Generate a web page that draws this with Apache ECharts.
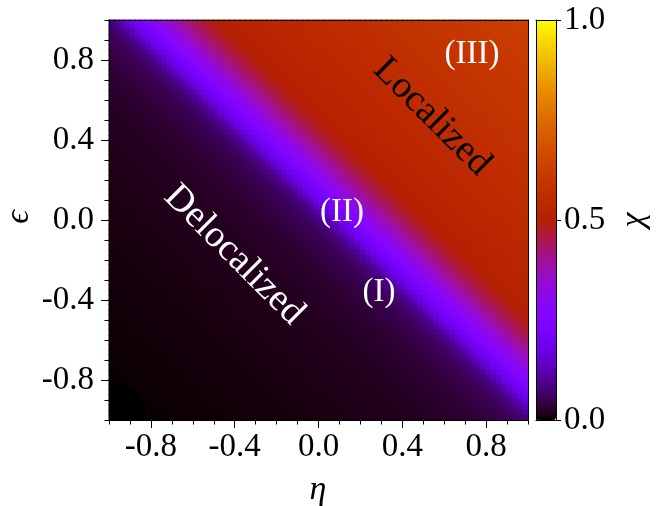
<!DOCTYPE html>
<html><head><meta charset="utf-8">
<script src="https://cdn.jsdelivr.net/npm/echarts@6/dist/echarts.min.js"></script>
<style>html,body{margin:0;padding:0;background:#fff}#c{width:663px;height:506px}</style>
</head><body><div id="c"></div>
<script>
// cell centres (eta: left->right, eps: bottom->top), step 0.025
const eta = [-0.9875,-0.9625,-0.9375,-0.9125,-0.8875,-0.8625,-0.8375,-0.8125,-0.7875,-0.7625,-0.7375,-0.7125,-0.6875,-0.6625,-0.6375,-0.6125,-0.5875,-0.5625,-0.5375,-0.5125,-0.4875,-0.4625,-0.4375,-0.4125,-0.3875,-0.3625,-0.3375,-0.3125,-0.2875,-0.2625,-0.2375,-0.2125,-0.1875,-0.1625,-0.1375,-0.1125,-0.0875,-0.0625,-0.0375,-0.0125,0.0125,0.0375,0.0625,0.0875,0.1125,0.1375,0.1625,0.1875,0.2125,0.2375,0.2625,0.2875,0.3125,0.3375,0.3625,0.3875,0.4125,0.4375,0.4625,0.4875,0.5125,0.5375,0.5625,0.5875,0.6125,0.6375,0.6625,0.6875,0.7125,0.7375,0.7625,0.7875,0.8125,0.8375,0.8625,0.8875,0.9125,0.9375,0.9625,0.9875];
const eps = [-0.9875,-0.9625,-0.9375,-0.9125,-0.8875,-0.8625,-0.8375,-0.8125,-0.7875,-0.7625,-0.7375,-0.7125,-0.6875,-0.6625,-0.6375,-0.6125,-0.5875,-0.5625,-0.5375,-0.5125,-0.4875,-0.4625,-0.4375,-0.4125,-0.3875,-0.3625,-0.3375,-0.3125,-0.2875,-0.2625,-0.2375,-0.2125,-0.1875,-0.1625,-0.1375,-0.1125,-0.0875,-0.0625,-0.0375,-0.0125,0.0125,0.0375,0.0625,0.0875,0.1125,0.1375,0.1625,0.1875,0.2125,0.2375,0.2625,0.2875,0.3125,0.3375,0.3625,0.3875,0.4125,0.4375,0.4625,0.4875,0.5125,0.5375,0.5625,0.5875,0.6125,0.6375,0.6625,0.6875,0.7125,0.7375,0.7625,0.7875,0.8125,0.8375,0.8625,0.8875,0.9125,0.9375,0.9625,0.9875];
// chi x 1000, rows from top (eps=0.9875) to bottom (eps=-0.9875)
const chiMilli = [
[85,104,130,158,186,212,236,259,281,302,324,345,366,388,408,427,444,460,474,485,494,501,507,512,516,519,522,525,527,529,531,533,535,537,539,541,543,545,547,549,551,553,555,557,559,561,563,565,567,569,571,573,575,577,579,581,583,585,587,589,591,593,595,597,599,601,603,605,607,609,611,613,615,617,619,621,623,625,627,629],
[73,85,104,130,158,186,212,236,259,281,302,324,345,366,388,408,427,444,460,474,485,494,501,507,512,516,519,522,525,527,529,531,533,535,537,539,541,543,545,547,549,551,553,555,557,559,561,563,565,567,569,571,573,575,577,579,581,583,585,587,589,591,593,595,597,599,601,603,605,607,609,611,613,615,617,619,621,623,625,627],
[64,73,85,104,130,158,186,212,236,259,281,302,324,345,366,388,408,427,444,460,474,485,494,501,507,512,516,519,522,525,527,529,531,533,535,537,539,541,543,545,547,549,551,553,555,557,559,561,563,565,567,569,571,573,575,577,579,581,583,585,587,589,591,593,595,597,599,601,603,605,607,609,611,613,615,617,619,621,623,625],
[57,64,73,85,104,130,158,186,212,236,259,281,302,324,345,366,388,408,427,444,460,474,485,494,501,507,512,516,519,522,525,527,529,531,533,535,537,539,541,543,545,547,549,551,553,555,557,559,561,563,565,567,569,571,573,575,577,579,581,583,585,587,589,591,593,595,597,599,601,603,605,607,609,611,613,615,617,619,621,623],
[52,57,64,73,85,104,130,158,186,212,236,259,281,302,324,345,366,388,408,427,444,460,474,485,494,501,507,512,516,519,522,525,527,529,531,533,535,537,539,541,543,545,547,549,551,553,555,557,559,561,563,565,567,569,571,573,575,577,579,581,583,585,587,589,591,593,595,597,599,601,603,605,607,609,611,613,615,617,619,621],
[48,52,57,64,73,85,104,130,158,186,212,236,259,281,302,324,345,366,388,408,427,444,460,474,485,494,501,507,512,516,519,522,525,527,529,531,533,535,537,539,541,543,545,547,549,551,553,555,557,559,561,563,565,567,569,571,573,575,577,579,581,583,585,587,589,591,593,595,597,599,601,603,605,607,609,611,613,615,617,619],
[44,48,52,57,64,73,85,104,130,158,186,212,236,259,281,302,324,345,366,388,408,427,444,460,474,485,494,501,507,512,516,519,522,525,527,529,531,533,535,537,539,541,543,545,547,549,551,553,555,557,559,561,563,565,567,569,571,573,575,577,579,581,583,585,587,589,591,593,595,597,599,601,603,605,607,609,611,613,615,617],
[41,44,48,52,57,64,73,85,104,130,158,186,212,236,259,281,302,324,345,366,388,408,427,444,460,474,485,494,501,507,512,516,519,522,525,527,529,531,533,535,537,539,541,543,545,547,549,551,553,555,557,559,561,563,565,567,569,571,573,575,577,579,581,583,585,587,589,591,593,595,597,599,601,603,605,607,609,611,613,615],
[38,41,44,48,52,57,64,73,85,104,130,158,186,212,236,259,281,302,324,345,366,388,408,427,444,460,474,485,494,501,507,512,516,519,522,525,527,529,531,533,535,537,539,541,543,545,547,549,551,553,555,557,559,561,563,565,567,569,571,573,575,577,579,581,583,585,587,589,591,593,595,597,599,601,603,605,607,609,611,613],
[35,38,41,44,48,52,57,64,73,85,104,130,158,186,212,236,259,281,302,324,345,366,388,408,427,444,460,474,485,494,501,507,512,516,519,522,525,527,529,531,533,535,537,539,541,543,545,547,549,551,553,555,557,559,561,563,565,567,569,571,573,575,577,579,581,583,585,587,589,591,593,595,597,599,601,603,605,607,609,611],
[33,35,38,41,44,48,52,57,64,73,85,104,130,158,186,212,236,259,281,302,324,345,366,388,408,427,444,460,474,485,494,501,507,512,516,519,522,525,527,529,531,533,535,537,539,541,543,545,547,549,551,553,555,557,559,561,563,565,567,569,571,573,575,577,579,581,583,585,587,589,591,593,595,597,599,601,603,605,607,609],
[31,33,35,38,41,44,48,52,57,64,73,85,104,130,158,186,212,236,259,281,302,324,345,366,388,408,427,444,460,474,485,494,501,507,512,516,519,522,525,527,529,531,533,535,537,539,541,543,545,547,549,551,553,555,557,559,561,563,565,567,569,571,573,575,577,579,581,583,585,587,589,591,593,595,597,599,601,603,605,607],
[29,31,33,35,38,41,44,48,52,57,64,73,85,104,130,158,186,212,236,259,281,302,324,345,366,388,408,427,444,460,474,485,494,501,507,512,516,519,522,525,527,529,531,533,535,537,539,541,543,545,547,549,551,553,555,557,559,561,563,565,567,569,571,573,575,577,579,581,583,585,587,589,591,593,595,597,599,601,603,605],
[28,29,31,33,35,38,41,44,48,52,57,64,73,85,104,130,158,186,212,236,259,281,302,324,345,366,388,408,427,444,460,474,485,494,501,507,512,516,519,522,525,527,529,531,533,535,537,539,541,543,545,547,549,551,553,555,557,559,561,563,565,567,569,571,573,575,577,579,581,583,585,587,589,591,593,595,597,599,601,603],
[27,28,29,31,33,35,38,41,44,48,52,57,64,73,85,104,130,158,186,212,236,259,281,302,324,345,366,388,408,427,444,460,474,485,494,501,507,512,516,519,522,525,527,529,531,533,535,537,539,541,543,545,547,549,551,553,555,557,559,561,563,565,567,569,571,573,575,577,579,581,583,585,587,589,591,593,595,597,599,601],
[25,27,28,29,31,33,35,38,41,44,48,52,57,64,73,85,104,130,158,186,212,236,259,281,302,324,345,366,388,408,427,444,460,474,485,494,501,507,512,516,519,522,525,527,529,531,533,535,537,539,541,543,545,547,549,551,553,555,557,559,561,563,565,567,569,571,573,575,577,579,581,583,585,587,589,591,593,595,597,599],
[24,25,27,28,29,31,33,35,38,41,44,48,52,57,64,73,85,104,130,158,186,212,236,259,281,302,324,345,366,388,408,427,444,460,474,485,494,501,507,512,516,519,522,525,527,529,531,533,535,537,539,541,543,545,547,549,551,553,555,557,559,561,563,565,567,569,571,573,575,577,579,581,583,585,587,589,591,593,595,597],
[23,24,25,27,28,29,31,33,35,38,41,44,48,52,57,64,73,85,104,130,158,186,212,236,259,281,302,324,345,366,388,408,427,444,460,474,485,494,501,507,512,516,519,522,525,527,529,531,533,535,537,539,541,543,545,547,549,551,553,555,557,559,561,563,565,567,569,571,573,575,577,579,581,583,585,587,589,591,593,595],
[22,23,24,25,27,28,29,31,33,35,38,41,44,48,52,57,64,73,85,104,130,158,186,212,236,259,281,302,324,345,366,388,408,427,444,460,474,485,494,501,507,512,516,519,522,525,527,529,531,533,535,537,539,541,543,545,547,549,551,553,555,557,559,561,563,565,567,569,571,573,575,577,579,581,583,585,587,589,591,593],
[21,22,23,24,25,27,28,29,31,33,35,38,41,44,48,52,57,64,73,85,104,130,158,186,212,236,259,281,302,324,345,366,388,408,427,444,460,474,485,494,501,507,512,516,519,522,525,527,529,531,533,535,537,539,541,543,545,547,549,551,553,555,557,559,561,563,565,567,569,571,573,575,577,579,581,583,585,587,589,591],
[20,21,22,23,24,25,27,28,29,31,33,35,38,41,44,48,52,57,64,73,85,104,130,158,186,212,236,259,281,302,324,345,366,388,408,427,444,460,474,485,494,501,507,512,516,519,522,525,527,529,531,533,535,537,539,541,543,545,547,549,551,553,555,557,559,561,563,565,567,569,571,573,575,577,579,581,583,585,587,589],
[20,20,21,22,23,24,25,27,28,29,31,33,35,38,41,44,48,52,57,64,73,85,104,130,158,186,212,236,259,281,302,324,345,366,388,408,427,444,460,474,485,494,501,507,512,516,519,522,525,527,529,531,533,535,537,539,541,543,545,547,549,551,553,555,557,559,561,563,565,567,569,571,573,575,577,579,581,583,585,587],
[19,20,20,21,22,23,24,25,27,28,29,31,33,35,38,41,44,48,52,57,64,73,85,104,130,158,186,212,236,259,281,302,324,345,366,388,408,427,444,460,474,485,494,501,507,512,516,519,522,525,527,529,531,533,535,537,539,541,543,545,547,549,551,553,555,557,559,561,563,565,567,569,571,573,575,577,579,581,583,585],
[18,19,20,20,21,22,23,24,25,27,28,29,31,33,35,38,41,44,48,52,57,64,73,85,104,130,158,186,212,236,259,281,302,324,345,366,388,408,427,444,460,474,485,494,501,507,512,516,519,522,525,527,529,531,533,535,537,539,541,543,545,547,549,551,553,555,557,559,561,563,565,567,569,571,573,575,577,579,581,583],
[17,18,19,20,20,21,22,23,24,25,27,28,29,31,33,35,38,41,44,48,52,57,64,73,85,104,130,158,186,212,236,259,281,302,324,345,366,388,408,427,444,460,474,485,494,501,507,512,516,519,522,525,527,529,531,533,535,537,539,541,543,545,547,549,551,553,555,557,559,561,563,565,567,569,571,573,575,577,579,581],
[17,17,18,19,20,20,21,22,23,24,25,27,28,29,31,33,35,38,41,44,48,52,57,64,73,85,104,130,158,186,212,236,259,281,302,324,345,366,388,408,427,444,460,474,485,494,501,507,512,516,519,522,525,527,529,531,533,535,537,539,541,543,545,547,549,551,553,555,557,559,561,563,565,567,569,571,573,575,577,579],
[16,17,17,18,19,20,20,21,22,23,24,25,27,28,29,31,33,35,38,41,44,48,52,57,64,73,85,104,130,158,186,212,236,259,281,302,324,345,366,388,408,427,444,460,474,485,494,501,507,512,516,519,522,525,527,529,531,533,535,537,539,541,543,545,547,549,551,553,555,557,559,561,563,565,567,569,571,573,575,577],
[16,16,17,17,18,19,20,20,21,22,23,24,25,27,28,29,31,33,35,38,41,44,48,52,57,64,73,85,104,130,158,186,212,236,259,281,302,324,345,366,388,408,427,444,460,474,485,494,501,507,512,516,519,522,525,527,529,531,533,535,537,539,541,543,545,547,549,551,553,555,557,559,561,563,565,567,569,571,573,575],
[15,16,16,17,17,18,19,20,20,21,22,23,24,25,27,28,29,31,33,35,38,41,44,48,52,57,64,73,85,104,130,158,186,212,236,259,281,302,324,345,366,388,408,427,444,460,474,485,494,501,507,512,516,519,522,525,527,529,531,533,535,537,539,541,543,545,547,549,551,553,555,557,559,561,563,565,567,569,571,573],
[15,15,16,16,17,17,18,19,20,20,21,22,23,24,25,27,28,29,31,33,35,38,41,44,48,52,57,64,73,85,104,130,158,186,212,236,259,281,302,324,345,366,388,408,427,444,460,474,485,494,501,507,512,516,519,522,525,527,529,531,533,535,537,539,541,543,545,547,549,551,553,555,557,559,561,563,565,567,569,571],
[14,15,15,16,16,17,17,18,19,20,20,21,22,23,24,25,27,28,29,31,33,35,38,41,44,48,52,57,64,73,85,104,130,158,186,212,236,259,281,302,324,345,366,388,408,427,444,460,474,485,494,501,507,512,516,519,522,525,527,529,531,533,535,537,539,541,543,545,547,549,551,553,555,557,559,561,563,565,567,569],
[14,14,15,15,16,16,17,17,18,19,20,20,21,22,23,24,25,27,28,29,31,33,35,38,41,44,48,52,57,64,73,85,104,130,158,186,212,236,259,281,302,324,345,366,388,408,427,444,460,474,485,494,501,507,512,516,519,522,525,527,529,531,533,535,537,539,541,543,545,547,549,551,553,555,557,559,561,563,565,567],
[13,14,14,15,15,16,16,17,17,18,19,20,20,21,22,23,24,25,27,28,29,31,33,35,38,41,44,48,52,57,64,73,85,104,130,158,186,212,236,259,281,302,324,345,366,388,408,427,444,460,474,485,494,501,507,512,516,519,522,525,527,529,531,533,535,537,539,541,543,545,547,549,551,553,555,557,559,561,563,565],
[13,13,14,14,15,15,16,16,17,17,18,19,20,20,21,22,23,24,25,27,28,29,31,33,35,38,41,44,48,52,57,64,73,85,104,130,158,186,212,236,259,281,302,324,345,366,388,408,427,444,460,474,485,494,501,507,512,516,519,522,525,527,529,531,533,535,537,539,541,543,545,547,549,551,553,555,557,559,561,563],
[12,13,13,14,14,15,15,16,16,17,17,18,19,20,20,21,22,23,24,25,27,28,29,31,33,35,38,41,44,48,52,57,64,73,85,104,130,158,186,212,236,259,281,302,324,345,366,388,408,427,444,460,474,485,494,501,507,512,516,519,522,525,527,529,531,533,535,537,539,541,543,545,547,549,551,553,555,557,559,561],
[12,12,13,13,14,14,15,15,16,16,17,17,18,19,20,20,21,22,23,24,25,27,28,29,31,33,35,38,41,44,48,52,57,64,73,85,104,130,158,186,212,236,259,281,302,324,345,366,388,408,427,444,460,474,485,494,501,507,512,516,519,522,525,527,529,531,533,535,537,539,541,543,545,547,549,551,553,555,557,559],
[11,12,12,13,13,14,14,15,15,16,16,17,17,18,19,20,20,21,22,23,24,25,27,28,29,31,33,35,38,41,44,48,52,57,64,73,85,104,130,158,186,212,236,259,281,302,324,345,366,388,408,427,444,460,474,485,494,501,507,512,516,519,522,525,527,529,531,533,535,537,539,541,543,545,547,549,551,553,555,557],
[11,11,12,12,13,13,14,14,15,15,16,16,17,17,18,19,20,20,21,22,23,24,25,27,28,29,31,33,35,38,41,44,48,52,57,64,73,85,104,130,158,186,212,236,259,281,302,324,345,366,388,408,427,444,460,474,485,494,501,507,512,516,519,522,525,527,529,531,533,535,537,539,541,543,545,547,549,551,553,555],
[10,11,11,12,12,13,13,14,14,15,15,16,16,17,17,18,19,20,20,21,22,23,24,25,27,28,29,31,33,35,38,41,44,48,52,57,64,73,85,104,130,158,186,212,236,259,281,302,324,345,366,388,408,427,444,460,474,485,494,501,507,512,516,519,522,525,527,529,531,533,535,537,539,541,543,545,547,549,551,553],
[10,10,11,11,12,12,13,13,14,14,15,15,16,16,17,17,18,19,20,20,21,22,23,24,25,27,28,29,31,33,35,38,41,44,48,52,57,64,73,85,104,130,158,186,212,236,259,281,302,324,345,366,388,408,427,444,460,474,485,494,501,507,512,516,519,522,525,527,529,531,533,535,537,539,541,543,545,547,549,551],
[10,10,10,11,11,12,12,13,13,14,14,15,15,16,16,17,17,18,19,20,20,21,22,23,24,25,27,28,29,31,33,35,38,41,44,48,52,57,64,73,85,104,130,158,186,212,236,259,281,302,324,345,366,388,408,427,444,460,474,485,494,501,507,512,516,519,522,525,527,529,531,533,535,537,539,541,543,545,547,549],
[9,10,10,10,11,11,12,12,13,13,14,14,15,15,16,16,17,17,18,19,20,20,21,22,23,24,25,27,28,29,31,33,35,38,41,44,48,52,57,64,73,85,104,130,158,186,212,236,259,281,302,324,345,366,388,408,427,444,460,474,485,494,501,507,512,516,519,522,525,527,529,531,533,535,537,539,541,543,545,547],
[9,9,10,10,10,11,11,12,12,13,13,14,14,15,15,16,16,17,17,18,19,20,20,21,22,23,24,25,27,28,29,31,33,35,38,41,44,48,52,57,64,73,85,104,130,158,186,212,236,259,281,302,324,345,366,388,408,427,444,460,474,485,494,501,507,512,516,519,522,525,527,529,531,533,535,537,539,541,543,545],
[9,9,9,10,10,10,11,11,12,12,13,13,14,14,15,15,16,16,17,17,18,19,20,20,21,22,23,24,25,27,28,29,31,33,35,38,41,44,48,52,57,64,73,85,104,130,158,186,212,236,259,281,302,324,345,366,388,408,427,444,460,474,485,494,501,507,512,516,519,522,525,527,529,531,533,535,537,539,541,543],
[8,9,9,9,10,10,10,11,11,12,12,13,13,14,14,15,15,16,16,17,17,18,19,20,20,21,22,23,24,25,27,28,29,31,33,35,38,41,44,48,52,57,64,73,85,104,130,158,186,212,236,259,281,302,324,345,366,388,408,427,444,460,474,485,494,501,507,512,516,519,522,525,527,529,531,533,535,537,539,541],
[8,8,9,9,9,10,10,10,11,11,12,12,13,13,14,14,15,15,16,16,17,17,18,19,20,20,21,22,23,24,25,27,28,29,31,33,35,38,41,44,48,52,57,64,73,85,104,130,158,186,212,236,259,281,302,324,345,366,388,408,427,444,460,474,485,494,501,507,512,516,519,522,525,527,529,531,533,535,537,539],
[8,8,8,9,9,9,10,10,10,11,11,12,12,13,13,14,14,15,15,16,16,17,17,18,19,20,20,21,22,23,24,25,27,28,29,31,33,35,38,41,44,48,52,57,64,73,85,104,130,158,186,212,236,259,281,302,324,345,366,388,408,427,444,460,474,485,494,501,507,512,516,519,522,525,527,529,531,533,535,537],
[7,8,8,8,9,9,9,10,10,10,11,11,12,12,13,13,14,14,15,15,16,16,17,17,18,19,20,20,21,22,23,24,25,27,28,29,31,33,35,38,41,44,48,52,57,64,73,85,104,130,158,186,212,236,259,281,302,324,345,366,388,408,427,444,460,474,485,494,501,507,512,516,519,522,525,527,529,531,533,535],
[7,7,8,8,8,9,9,9,10,10,10,11,11,12,12,13,13,14,14,15,15,16,16,17,17,18,19,20,20,21,22,23,24,25,27,28,29,31,33,35,38,41,44,48,52,57,64,73,85,104,130,158,186,212,236,259,281,302,324,345,366,388,408,427,444,460,474,485,494,501,507,512,516,519,522,525,527,529,531,533],
[7,7,7,8,8,8,9,9,9,10,10,10,11,11,12,12,13,13,14,14,15,15,16,16,17,17,18,19,20,20,21,22,23,24,25,27,28,29,31,33,35,38,41,44,48,52,57,64,73,85,104,130,158,186,212,236,259,281,302,324,345,366,388,408,427,444,460,474,485,494,501,507,512,516,519,522,525,527,529,531],
[6,7,7,7,8,8,8,9,9,9,10,10,10,11,11,12,12,13,13,14,14,15,15,16,16,17,17,18,19,20,20,21,22,23,24,25,27,28,29,31,33,35,38,41,44,48,52,57,64,73,85,104,130,158,186,212,236,259,281,302,324,345,366,388,408,427,444,460,474,485,494,501,507,512,516,519,522,525,527,529],
[6,6,7,7,7,8,8,8,9,9,9,10,10,10,11,11,12,12,13,13,14,14,15,15,16,16,17,17,18,19,20,20,21,22,23,24,25,27,28,29,31,33,35,38,41,44,48,52,57,64,73,85,104,130,158,186,212,236,259,281,302,324,345,366,388,408,427,444,460,474,485,494,501,507,512,516,519,522,525,527],
[6,6,6,7,7,7,8,8,8,9,9,9,10,10,10,11,11,12,12,13,13,14,14,15,15,16,16,17,17,18,19,20,20,21,22,23,24,25,27,28,29,31,33,35,38,41,44,48,52,57,64,73,85,104,130,158,186,212,236,259,281,302,324,345,366,388,408,427,444,460,474,485,494,501,507,512,516,519,522,525],
[6,6,6,6,7,7,7,8,8,8,9,9,9,10,10,10,11,11,12,12,13,13,14,14,15,15,16,16,17,17,18,19,20,20,21,22,23,24,25,27,28,29,31,33,35,38,41,44,48,52,57,64,73,85,104,130,158,186,212,236,259,281,302,324,345,366,388,408,427,444,460,474,485,494,501,507,512,516,519,522],
[5,6,6,6,6,7,7,7,8,8,8,9,9,9,10,10,10,11,11,12,12,13,13,14,14,15,15,16,16,17,17,18,19,20,20,21,22,23,24,25,27,28,29,31,33,35,38,41,44,48,52,57,64,73,85,104,130,158,186,212,236,259,281,302,324,345,366,388,408,427,444,460,474,485,494,501,507,512,516,519],
[5,5,6,6,6,6,7,7,7,8,8,8,9,9,9,10,10,10,11,11,12,12,13,13,14,14,15,15,16,16,17,17,18,19,20,20,21,22,23,24,25,27,28,29,31,33,35,38,41,44,48,52,57,64,73,85,104,130,158,186,212,236,259,281,302,324,345,366,388,408,427,444,460,474,485,494,501,507,512,516],
[5,5,5,6,6,6,6,7,7,7,8,8,8,9,9,9,10,10,10,11,11,12,12,13,13,14,14,15,15,16,16,17,17,18,19,20,20,21,22,23,24,25,27,28,29,31,33,35,38,41,44,48,52,57,64,73,85,104,130,158,186,212,236,259,281,302,324,345,366,388,408,427,444,460,474,485,494,501,507,512],
[5,5,5,5,6,6,6,6,7,7,7,8,8,8,9,9,9,10,10,10,11,11,12,12,13,13,14,14,15,15,16,16,17,17,18,19,20,20,21,22,23,24,25,27,28,29,31,33,35,38,41,44,48,52,57,64,73,85,104,130,158,186,212,236,259,281,302,324,345,366,388,408,427,444,460,474,485,494,501,507],
[4,5,5,5,5,6,6,6,6,7,7,7,8,8,8,9,9,9,10,10,10,11,11,12,12,13,13,14,14,15,15,16,16,17,17,18,19,20,20,21,22,23,24,25,27,28,29,31,33,35,38,41,44,48,52,57,64,73,85,104,130,158,186,212,236,259,281,302,324,345,366,388,408,427,444,460,474,485,494,501],
[4,4,5,5,5,5,6,6,6,6,7,7,7,8,8,8,9,9,9,10,10,10,11,11,12,12,13,13,14,14,15,15,16,16,17,17,18,19,20,20,21,22,23,24,25,27,28,29,31,33,35,38,41,44,48,52,57,64,73,85,104,130,158,186,212,236,259,281,302,324,345,366,388,408,427,444,460,474,485,494],
[4,4,4,5,5,5,5,6,6,6,6,7,7,7,8,8,8,9,9,9,10,10,10,11,11,12,12,13,13,14,14,15,15,16,16,17,17,18,19,20,20,21,22,23,24,25,27,28,29,31,33,35,38,41,44,48,52,57,64,73,85,104,130,158,186,212,236,259,281,302,324,345,366,388,408,427,444,460,474,485],
[4,4,4,4,5,5,5,5,6,6,6,6,7,7,7,8,8,8,9,9,9,10,10,10,11,11,12,12,13,13,14,14,15,15,16,16,17,17,18,19,20,20,21,22,23,24,25,27,28,29,31,33,35,38,41,44,48,52,57,64,73,85,104,130,158,186,212,236,259,281,302,324,345,366,388,408,427,444,460,474],
[4,4,4,4,4,5,5,5,5,6,6,6,6,7,7,7,8,8,8,9,9,9,10,10,10,11,11,12,12,13,13,14,14,15,15,16,16,17,17,18,19,20,20,21,22,23,24,25,27,28,29,31,33,35,38,41,44,48,52,57,64,73,85,104,130,158,186,212,236,259,281,302,324,345,366,388,408,427,444,460],
[3,4,4,4,4,4,5,5,5,5,6,6,6,6,7,7,7,8,8,8,9,9,9,10,10,10,11,11,12,12,13,13,14,14,15,15,16,16,17,17,18,19,20,20,21,22,23,24,25,27,28,29,31,33,35,38,41,44,48,52,57,64,73,85,104,130,158,186,212,236,259,281,302,324,345,366,388,408,427,444],
[3,3,4,4,4,4,4,5,5,5,5,6,6,6,6,7,7,7,8,8,8,9,9,9,10,10,10,11,11,12,12,13,13,14,14,15,15,16,16,17,17,18,19,20,20,21,22,23,24,25,27,28,29,31,33,35,38,41,44,48,52,57,64,73,85,104,130,158,186,212,236,259,281,302,324,345,366,388,408,427],
[3,3,3,4,4,4,4,4,5,5,5,5,6,6,6,6,7,7,7,8,8,8,9,9,9,10,10,10,11,11,12,12,13,13,14,14,15,15,16,16,17,17,18,19,20,20,21,22,23,24,25,27,28,29,31,33,35,38,41,44,48,52,57,64,73,85,104,130,158,186,212,236,259,281,302,324,345,366,388,408],
[3,3,3,3,4,4,4,4,4,5,5,5,5,6,6,6,6,7,7,7,8,8,8,9,9,9,10,10,10,11,11,12,12,13,13,14,14,15,15,16,16,17,17,18,19,20,20,21,22,23,24,25,27,28,29,31,33,35,38,41,44,48,52,57,64,73,85,104,130,158,186,212,236,259,281,302,324,345,366,388],
[3,3,3,3,3,4,4,4,4,4,5,5,5,5,6,6,6,6,7,7,7,8,8,8,9,9,9,10,10,10,11,11,12,12,13,13,14,14,15,15,16,16,17,17,18,19,20,20,21,22,23,24,25,27,28,29,31,33,35,38,41,44,48,52,57,64,73,85,104,130,158,186,212,236,259,281,302,324,345,366],
[3,3,3,3,3,3,4,4,4,4,4,5,5,5,5,6,6,6,6,7,7,7,8,8,8,9,9,9,10,10,10,11,11,12,12,13,13,14,14,15,15,16,16,17,17,18,19,20,20,21,22,23,24,25,27,28,29,31,33,35,38,41,44,48,52,57,64,73,85,104,130,158,186,212,236,259,281,302,324,345],
[2,3,3,3,3,3,3,4,4,4,4,4,5,5,5,5,6,6,6,6,7,7,7,8,8,8,9,9,9,10,10,10,11,11,12,12,13,13,14,14,15,15,16,16,17,17,18,19,20,20,21,22,23,24,25,27,28,29,31,33,35,38,41,44,48,52,57,64,73,85,104,130,158,186,212,236,259,281,302,324],
[2,2,3,3,3,3,3,3,4,4,4,4,4,5,5,5,5,6,6,6,6,7,7,7,8,8,8,9,9,9,10,10,10,11,11,12,12,13,13,14,14,15,15,16,16,17,17,18,19,20,20,21,22,23,24,25,27,28,29,31,33,35,38,41,44,48,52,57,64,73,85,104,130,158,186,212,236,259,281,302],
[2,2,2,3,3,3,3,3,3,4,4,4,4,4,5,5,5,5,6,6,6,6,7,7,7,8,8,8,9,9,9,10,10,10,11,11,12,12,13,13,14,14,15,15,16,16,17,17,18,19,20,20,21,22,23,24,25,27,28,29,31,33,35,38,41,44,48,52,57,64,73,85,104,130,158,186,212,236,259,281],
[2,2,2,2,3,3,3,3,3,3,4,4,4,4,4,5,5,5,5,6,6,6,6,7,7,7,8,8,8,9,9,9,10,10,10,11,11,12,12,13,13,14,14,15,15,16,16,17,17,18,19,20,20,21,22,23,24,25,27,28,29,31,33,35,38,41,44,48,52,57,64,73,85,104,130,158,186,212,236,259],
[0,0,0,2,2,3,3,3,3,3,3,4,4,4,4,4,5,5,5,5,6,6,6,6,7,7,7,8,8,8,9,9,9,10,10,10,11,11,12,12,13,13,14,14,15,15,16,16,17,17,18,19,20,20,21,22,23,24,25,27,28,29,31,33,35,38,41,44,48,52,57,64,73,85,104,130,158,186,212,236],
[0,0,0,0,0,2,3,3,3,3,3,3,4,4,4,4,4,5,5,5,5,6,6,6,6,7,7,7,8,8,8,9,9,9,10,10,10,11,11,12,12,13,13,14,14,15,15,16,16,17,17,18,19,20,20,21,22,23,24,25,27,28,29,31,33,35,38,41,44,48,52,57,64,73,85,104,130,158,186,212],
[0,0,0,0,0,0,2,3,3,3,3,3,3,4,4,4,4,4,5,5,5,5,6,6,6,6,7,7,7,8,8,8,9,9,9,10,10,10,11,11,12,12,13,13,14,14,15,15,16,16,17,17,18,19,20,20,21,22,23,24,25,27,28,29,31,33,35,38,41,44,48,52,57,64,73,85,104,130,158,186],
[0,0,0,0,0,0,2,2,3,3,3,3,3,3,4,4,4,4,4,5,5,5,5,6,6,6,6,7,7,7,8,8,8,9,9,9,10,10,10,11,11,12,12,13,13,14,14,15,15,16,16,17,17,18,19,20,20,21,22,23,24,25,27,28,29,31,33,35,38,41,44,48,52,57,64,73,85,104,130,158],
[0,0,0,0,0,0,0,2,2,3,3,3,3,3,3,4,4,4,4,4,5,5,5,5,6,6,6,6,7,7,7,8,8,8,9,9,9,10,10,10,11,11,12,12,13,13,14,14,15,15,16,16,17,17,18,19,20,20,21,22,23,24,25,27,28,29,31,33,35,38,41,44,48,52,57,64,73,85,104,130],
[0,0,0,0,0,0,0,2,2,2,3,3,3,3,3,3,4,4,4,4,4,5,5,5,5,6,6,6,6,7,7,7,8,8,8,9,9,9,10,10,10,11,11,12,12,13,13,14,14,15,15,16,16,17,17,18,19,20,20,21,22,23,24,25,27,28,29,31,33,35,38,41,44,48,52,57,64,73,85,104],
[0,0,0,0,0,0,0,2,2,2,2,3,3,3,3,3,3,4,4,4,4,4,5,5,5,5,6,6,6,6,7,7,7,8,8,8,9,9,9,10,10,10,11,11,12,12,13,13,14,14,15,15,16,16,17,17,18,19,20,20,21,22,23,24,25,27,28,29,31,33,35,38,41,44,48,52,57,64,73,85]
];
const majorTicks = [-0.8, -0.4, 0, 0.4, 0.8];
const minorTicks = [-1,-0.9,-0.8,-0.7,-0.6,-0.5,-0.4,-0.3,-0.2,-0.1,0,0.1,0.2,0.3,0.4,0.5,0.6,0.7,0.8,0.9,1];
const cbTicks = [0, 0.5, 1];

// matplotlib 'gnuplot' colormap
function gnuplot(t) {
  const r = Math.sqrt(t), g = t * t * t, b = Math.max(0, Math.sin(2 * Math.PI * t));
  return 'rgb(' + Math.round(r * 255) + ',' + Math.round(g * 255) + ',' + Math.round(b * 255) + ')';
}
const cmap = [];
for (let i = 0; i <= 255; i++) cmap.push(gnuplot(i / 255));

const data = [];
const badRows = [];
for (let r = 0; r < chiMilli.length; r++) {
  if (chiMilli[r].length !== eta.length) badRows.push(r + ':' + chiMilli[r].length);
  const yi = chiMilli.length - 1 - r;
  chiMilli[r].forEach((v, i) => data.push([eta[i], eps[yi], v / 1000]));
}
const cellW = eta[1] - eta[0];
const cellH = eps[1] - eps[0];

const FONT = 'Liberation Serif';
const fmt = v => (Math.abs(v) < 1e-9 ? 0 : v).toFixed(1);
const lineStyle = { color: '#000', width: 1 };
const PL = 109, PT = 20, PW = 419, PH = 400;
const hidden = { axisLine: { show: false, onZero: false }, axisTick: { show: false }, axisLabel: { show: false }, splitLine: { show: false } };

const graphics = [
  { type: 'text', x: 234, y: 255, rotation: -Math.PI / 4, z: 100,
    style: { text: 'Delocalized', fill: '#fff', fontFamily: FONT, fontSize: 38, align: 'center', verticalAlign: 'middle' } },
  { type: 'text', x: 432, y: 117, rotation: -Math.PI / 4, z: 100,
    style: { text: 'Localized', fill: '#000', fontFamily: FONT, fontSize: 38, align: 'center', verticalAlign: 'middle' } },
  { type: 'text', x: 472, y: 54, z: 100,
    style: { text: '(III)', fill: '#fff', fontFamily: FONT, fontSize: 33, align: 'center', verticalAlign: 'middle' } },
  { type: 'text', x: 342, y: 212, z: 100,
    style: { text: '(II)', fill: '#fff', fontFamily: FONT, fontSize: 33, align: 'center', verticalAlign: 'middle' } },
  { type: 'text', x: 379, y: 292, z: 100,
    style: { text: '(I)', fill: '#fff', fontFamily: FONT, fontSize: 33, align: 'center', verticalAlign: 'middle' } },
  { type: 'text', x: 318, y: 490, z: 100,
    style: { text: 'η', fill: '#000', fontFamily: FONT, fontStyle: 'italic', fontSize: 34, align: 'center', verticalAlign: 'middle' } },
  { type: 'text', x: 19, y: 217, rotation: Math.PI / 2, z: 100,
    style: { text: 'ϵ', fill: '#000', fontFamily: FONT, fontStyle: 'italic', fontSize: 34, align: 'center', verticalAlign: 'middle' } },
  { type: 'text', x: 634, y: 220, rotation: Math.PI / 2, z: 100,
    style: { text: 'χ', fill: '#000', fontFamily: FONT, fontStyle: 'italic', fontSize: 34, align: 'center', verticalAlign: 'middle' } }
];
if (badRows.length) graphics.push({ type: 'text', x: 120, y: 30, z: 200, style: { text: 'BAD ' + badRows.join(' '), fill: '#0f0', fontSize: 14 } });

const chart = echarts.init(document.getElementById('c'), null, { renderer: 'canvas' });
chart.setOption({
  animation: false,
  backgroundColor: '#fff',
  grid: [
    { left: PL, top: PT, width: PW, height: PH },
    { left: 536, top: PT, width: 20, height: PH }
  ],
  xAxis: [
    { type: 'value', gridIndex: 0, min: -1, max: 1, position: 'bottom', z: 10,
      axisLine: { onZero: false, lineStyle },
      axisTick: { customValues: majorTicks, length: 8, lineStyle },
      axisLabel: { customValues: majorTicks, formatter: fmt, fontFamily: FONT, fontSize: 33, color: '#000', margin: 11 },
      splitLine: { show: false } },
    Object.assign({ type: 'value', gridIndex: 0, min: -1, max: 1, position: 'bottom', z: 10 }, hidden,
      { axisTick: { show: true, customValues: minorTicks, length: 4.5, lineStyle } }),
    Object.assign({ type: 'value', gridIndex: 0, min: -1, max: 1, position: 'top', z: 10 }, hidden,
      { axisLine: { show: true, onZero: false, lineStyle } }),
    Object.assign({ type: 'value', gridIndex: 1, min: 0, max: 1, position: 'bottom', z: 10 }, hidden,
      { axisLine: { show: true, onZero: false, lineStyle } }),
    Object.assign({ type: 'value', gridIndex: 1, min: 0, max: 1, position: 'top', z: 10 }, hidden,
      { axisLine: { show: true, onZero: false, lineStyle } })
  ],
  yAxis: [
    { type: 'value', gridIndex: 0, min: -1, max: 1, position: 'left', z: 10,
      axisLine: { onZero: false, lineStyle },
      axisTick: { customValues: majorTicks, length: 8, lineStyle },
      axisLabel: { customValues: majorTicks, formatter: fmt, fontFamily: FONT, fontSize: 33, color: '#000', margin: 15 },
      splitLine: { show: false } },
    Object.assign({ type: 'value', gridIndex: 0, min: -1, max: 1, position: 'left', z: 10 }, hidden,
      { axisTick: { show: true, customValues: minorTicks, length: 4.5, lineStyle } }),
    Object.assign({ type: 'value', gridIndex: 0, min: -1, max: 1, position: 'right', z: 10 }, hidden,
      { axisLine: { show: true, onZero: false, lineStyle } }),
    Object.assign({ type: 'value', gridIndex: 1, min: 0, max: 1, position: 'left', z: 10 }, hidden,
      { axisLine: { show: true, onZero: false, lineStyle } }),
    { type: 'value', gridIndex: 1, min: 0, max: 1, position: 'right', z: 10,
      axisLine: { onZero: false, lineStyle },
      axisTick: { customValues: cbTicks, length: 5, lineStyle },
      axisLabel: { customValues: cbTicks, formatter: fmt, fontFamily: FONT, fontSize: 33, color: '#000', margin: 8 },
      splitLine: { show: false } }
  ],
  visualMap: {
    type: 'continuous', min: 0, max: 1, seriesIndex: 0, dimension: 2, show: true,
    left: 536, top: PT, itemWidth: 20, itemHeight: PH, padding: 0,
    calculable: false, text: null, hoverLink: false,
    inRange: { color: cmap }
  },
  series: [{
    type: 'custom', xAxisIndex: 0, yAxisIndex: 0, data: data, clip: true,
    encode: { x: 0, y: 1 }, silent: true,
    renderItem: function (params, api) {
      const c = api.coord([api.value(0), api.value(1)]);
      const s = api.size([cellW, cellH]);
      return {
        type: 'rect',
        shape: { x: c[0] - s[0] / 2 - 0.5, y: c[1] - s[1] / 2 - 0.5, width: s[0] + 1, height: s[1] + 1 },
        style: { fill: api.visual('color'), stroke: null }
      };
    }
  }],
  graphic: graphics
});
</script>
</body></html>
